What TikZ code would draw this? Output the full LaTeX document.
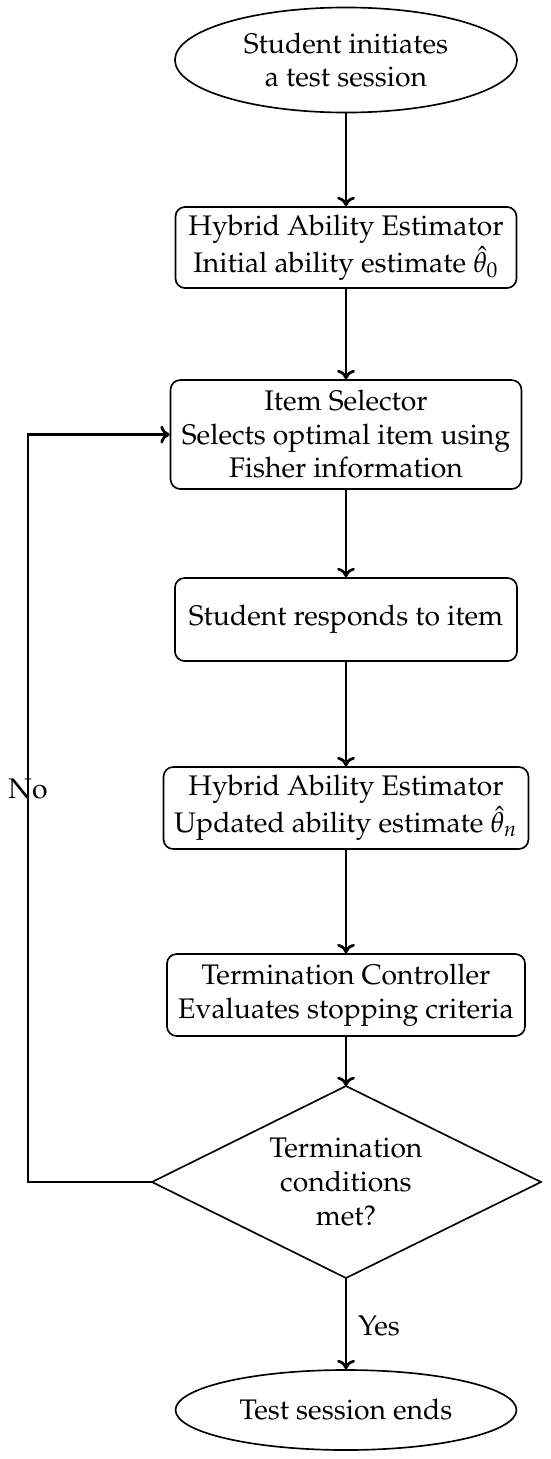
\documentclass[tikz,border=0pt]{standalone}
\usepackage[T1]{fontenc}
\usepackage{mathpazo}
\usetikzlibrary{shapes.geometric,arrows.meta}
\tikzset{
  txt/.style={font=\fontsize{10.3}{12.2}\selectfont},
  base/.style={draw, txt, line width=0.6pt, inner sep=0pt, align=center},
  term/.style={base, ellipse},
  proc/.style={base, rectangle, rounded corners=3.5pt},
  conn/.style={line width=1pt, -{To[length=3.4pt,width=6.5pt]}},
  lbl/.style={txt, inner sep=0pt}
}
\begin{document}
\begin{tikzpicture}[x=0.36364pt, y=-0.36364pt]
\useasboundingbox (0,0) rectangle (550,1459);
\node[term, minimum width=124.4pt, minimum height=38.2pt] (start) at (346,60) {Student initiates\\a test session};
\node[proc, minimum width=124pt, minimum height=29.5pt] (b1) at (346,247.5) {Hybrid Ability Estimator\\Initial ability estimate $\hat{\theta}_0$};
\node[proc, minimum width=127.6pt, minimum height=39.6pt] (b2) at (346,434.5) {Item Selector\\Selects optimal item using\\Fisher information};
\node[proc, minimum width=124.4pt, minimum height=30.2pt] (b3) at (346,619.5) {Student responds to item};
\node[proc, minimum width=132.7pt, minimum height=29.8pt] (b4) at (346,808) {Hybrid Ability Estimator\\Updated ability estimate $\hat{\theta}_n$};
\node[proc, minimum width=130.2pt, minimum height=29.8pt] (b5) at (346,995) {Termination Controller\\Evaluates stopping criteria};
\coordinate (dtop) at (346,1086);
\coordinate (dright) at (541,1182);
\coordinate (dbottom) at (346,1278);
\coordinate (dleft) at (152,1182);
\draw[line width=0.6pt] (dtop) -- (dright) -- (dbottom) -- (dleft) -- cycle;
\node[lbl, align=center] (dtext) at (346,1182) {Termination\\conditions\\met?};
\node[term, minimum width=124pt, minimum height=29.1pt] (end) at (346,1410) {Test session ends};
\coordinate (loopc) at (28,434.5);
\draw[conn] (start.south) -- (b1.north);
\draw[conn] (b1.south) -- (b2.north);
\draw[conn] (b2.south) -- (b3.north);
\draw[conn] (b3.south) -- (b4.north);
\draw[conn] (b4.south) -- (b5.north);
\draw[conn] (b5.south) -- (dtop);
\draw[conn] (dbottom) -- (end.north);
\draw[conn] (dleft) -| (loopc) -- (b2.west);
\node[lbl] (no) at (28,789) {No};
\node[lbl] (yes) at (379,1326) {Yes};
\end{tikzpicture}
\end{document}
